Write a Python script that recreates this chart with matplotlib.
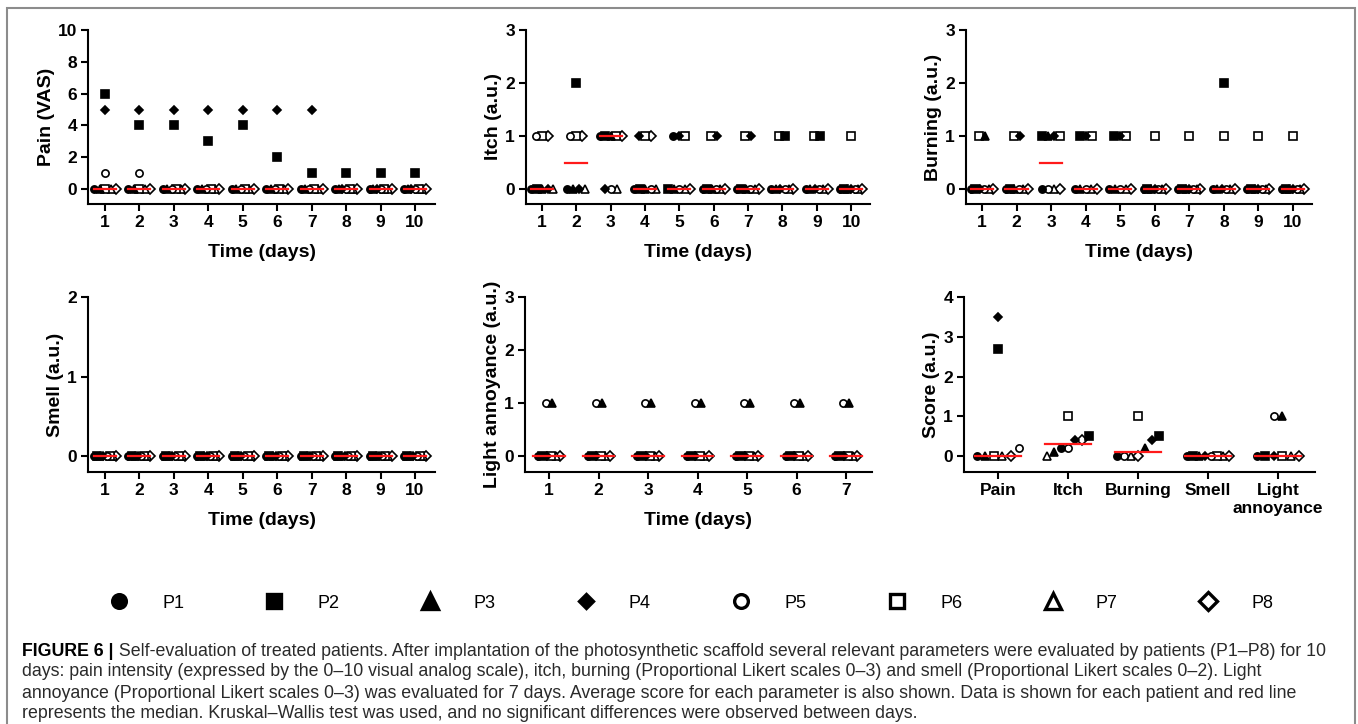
import numpy as np
import matplotlib.pyplot as plt
from matplotlib.lines import Line2D
from matplotlib.patches import Rectangle

plt.rcParams['font.family'] = ['Liberation Sans', 'DejaVu Sans']

W, H = 1358, 724

patients = ['P1', 'P2', 'P3', 'P4', 'P5', 'P6', 'P7', 'P8']
markers = ['o', 's', '^', 'D', 'o', 's', '^', 'D']
filled = [True, True, True, True, False, False, False, False]
msizes = [5.2, 5.2, 6, 3.8, 5.2, 5.4, 6, 4.6]

days10 = [1, 2, 3, 4, 5, 6, 7, 8, 9, 10]
days7 = [1, 2, 3, 4, 5, 6, 7]

# rows = patients P1..P8, columns = days
pain = [
    [0, 0, 0, 0, 0, 0, 0, 0, 0, 0],
    [6, 4, 4, 3, 4, 2, 1, 1, 1, 1],
    [0, 0, 0, 0, 0, 0, 0, 0, 0, 0],
    [5, 5, 5, 5, 5, 5, 5, 0, 0, 0],
    [1, 1, 0, 0, 0, 0, 0, 0, 0, 0],
    [0, 0, 0, 0, 0, 0, 0, 0, 0, 0],
    [0, 0, 0, 0, 0, 0, 0, 0, 0, 0],
    [0, 0, 0, 0, 0, 0, 0, 0, 0, 0],
]
itch = [
    [0, 0, 1, 0, 1, 0, 0, 0, 0, 0],
    [0, 2, 1, 0, 0, 0, 0, 1, 1, 0],
    [0, 0, 1, 0, 0, 0, 0, 0, 0, 0],
    [0, 0, 0, 1, 1, 1, 1, 0, 0, 0],
    [1, 1, 0, 0, 0, 0, 0, 0, 0, 0],
    [1, 1, 1, 1, 1, 1, 1, 1, 1, 1],
    [0, 0, 0, 0, 0, 0, 0, 0, 0, 0],
    [1, 1, 1, 1, 0, 0, 0, 0, 0, 0],
]
burning = [
    [0, 0, 0, 0, 0, 0, 0, 0, 0, 0],
    [0, 0, 1, 1, 1, 0, 0, 2, 0, 0],
    [1, 0, 1, 0, 0, 0, 0, 0, 0, 0],
    [0, 1, 1, 1, 1, 0, 0, 0, 0, 0],
    [0, 0, 0, 0, 0, 0, 0, 0, 0, 0],
    [1, 1, 1, 1, 1, 1, 1, 1, 1, 1],
    [0, 0, 0, 0, 0, 0, 0, 0, 0, 0],
    [0, 0, 0, 0, 0, 0, 0, 0, 0, 0],
]
smell = [[0] * 10 for p in patients]
light = [
    [0, 0, 0, 0, 0, 0, 0],
    [0, 0, 0, 0, 0, 0, 0],
    [1, 1, 1, 1, 1, 1, 1],
    [0, 0, 0, 0, 0, 0, 0],
    [1, 1, 1, 1, 1, 1, 1],
    [0, 0, 0, 0, 0, 0, 0],
    [0, 0, 0, 0, 0, 0, 0],
    [0, 0, 0, 0, 0, 0, 0],
]

# average score per parameter, rows = patients
score_cats = ['Pain', 'Itch', 'Burning', 'Smell', 'Light\nannoyance']
score = [
    [0, 0.2, 0, 0, 0],
    [2.7, 0.5, 0.5, 0, 0],
    [0, 0.1, 0.2, 0, 1],
    [3.5, 0.4, 0.4, 0, 0],
    [0.2, 0.2, 0, 0, 1],
    [0, 1, 1, 0, 0],
    [0, 0, 0, 0, 0],
    [0, 0.4, 0, 0, 0],
]


def px(x0, y0, x1, y1):
    # pixel box (left, top, right, bottom) -> figure fraction rect
    return [x0 / W, 1 - y1 / H, (x1 - x0) / W, (y1 - y0) / H]


def spread(ax, vals, dmax, wmax, thresh=10):
    # horizontal offsets (data units) so that points with close values fan out
    bb = ax.get_position()
    xl, yl = ax.get_xlim(), ax.get_ylim()
    upx = bb.width * W / (xl[1] - xl[0])
    upy = bb.height * H / (yl[1] - yl[0])
    order = sorted(range(len(vals)), key=lambda i: (vals[i], i))
    groups, cur = [], [order[0]]
    for i in order[1:]:
        if (vals[i] - vals[cur[-1]]) * upy < thresh:
            cur.append(i)
        else:
            groups.append(cur)
            cur = [i]
    groups.append(cur)
    off = [0.0] * len(vals)
    for g in groups:
        n = len(g)
        if n == 1:
            continue
        if n == 2:
            g = g[::-1]
        d = min(dmax, wmax / (n - 1))
        for k, i in enumerate(g):
            off[i] = (k - (n - 1) / 2) * d / upx
    return off


def style(ax, ylab, yticks, xticks, xticklabels, xlab):
    for s in ['top', 'right']:
        ax.spines[s].set_visible(False)
    for s in ['left', 'bottom']:
        ax.spines[s].set_linewidth(1.5)
    ax.tick_params(width=1.5, length=5, labelsize=12.5, pad=3)
    ax.set_yticks(yticks)
    ax.set_xticks(xticks)
    ax.set_xticklabels(xticklabels, fontweight='bold')
    for t in ax.get_yticklabels():
        t.set_fontweight('bold')
    ax.set_ylabel(ylab, fontsize=14, fontweight='bold', labelpad=2)
    if xlab:
        ax.set_xlabel(xlab, fontsize=14, fontweight='bold', labelpad=10)


def draw(ax, xs, data, dmax, wmax, half):
    data = np.array(data, dtype=float)
    for j, x in enumerate(xs):
        col = data[:, j]
        off = spread(ax, list(col), dmax, wmax)
        # open symbols first so the filled ones sit on top, like the original
        for i in reversed(range(len(patients))):
            ax.plot(x + off[i], col[i], linestyle='none', marker=markers[i],
                    ms=msizes[i], mfc='black' if filled[i] else 'white',
                    mec='black', mew=1.2, zorder=3, clip_on=False)
        med = np.median(col)
        ax.plot([x - half, x + half], [med, med], color='#ff1a1a', lw=1.6, zorder=4)


fig = plt.figure(figsize=(W / 100, H / 100), dpi=100)

panels = [
    (px(88, 30, 435, 204), (0.506, 10.58), (-0.94, 10), pain, days10, 'Pain (VAS)', [0, 2, 4, 6, 8, 10]),
    (px(526, 30, 870, 204), (0.534, 10.55), (-0.28, 3), itch, days10, 'Itch (a.u.)', [0, 1, 2, 3]),
    (px(966, 30, 1312, 204), (0.537, 10.55), (-0.28, 3), burning, days10, 'Burning (a.u.)', [0, 1, 2, 3]),
    (px(88, 297, 435, 472), (0.506, 10.58), (-0.2, 2), smell, days10, 'Smell (a.u.)', [0, 1, 2]),
    (px(525, 297, 872, 472), (0.515, 7.525), (-0.3, 3), light, days7, 'Light annoyance (a.u.)', [0, 1, 2, 3]),
]

for rect, xl, yl, data, days, ylab, yt in panels:
    ax = fig.add_axes(rect)
    ax.set_xlim(xl)
    ax.set_ylim(yl)
    draw(ax, days, data, 6, 22, 0.32)
    style(ax, ylab, yt, days, [str(d) for d in days], 'Time (days)')

ax = fig.add_axes(px(964, 297, 1315, 472))
ax.set_xlim(0.514, 5.53)
ax.set_ylim(-0.4, 4)
cats = list(range(1, len(score_cats) + 1))
draw(ax, cats, score, 8.5, 42, 0.33)
style(ax, 'Score (a.u.)', [0, 1, 2, 3, 4], cats, score_cats, None)

# legend row
handles = [Line2D([], [], linestyle='none', marker=markers[i], ms=msizes[i] * 1.9,
                  mfc='black' if filled[i] else 'white', mec='black', mew=2.4)
           for i in range(len(patients))]
fig.legend(handles, patients, ncol=8, loc='center', bbox_to_anchor=(687 / W, 1 - 603 / H),
           frameon=False, fontsize=13, handlelength=2, handletextpad=1.4,
           columnspacing=4.0, borderpad=0)

# caption
cap = fig.add_axes([0, 0, 1, 1])
cap.axis('off')
cap.set_xlim(0, W)
cap.set_ylim(H, 0)
lines = [
    'Self-evaluation of treated patients. After implantation of the photosynthetic scaffold several relevant parameters were evaluated by patients (P1\u2013P8) for 10',
    'days: pain intensity (expressed by the 0\u201310 visual analog scale), itch, burning (Proportional Likert scales 0\u20133) and smell (Proportional Likert scales 0\u20132). Light',
    'annoyance (Proportional Likert scales 0\u20133) was evaluated for 7 days. Average score for each parameter is also shown. Data is shown for each patient and red line',
    'represents the median. Kruskal\u2013Wallis test was used, and no significant differences were observed between days.',
]
ys = [651, 672, 693, 714]
t1 = cap.text(22, ys[0], 'FIGURE 6 |', fontsize=12.8, fontweight='bold', va='center')
cap.annotate(' ' + lines[0], xy=(1, 0.5), xycoords=t1, va='center', fontsize=12.8, color='#2a2a2a')
for y, s in zip(ys[1:], lines[1:]):
    cap.text(22, y, s, fontsize=12.8, va='center', color='#2a2a2a')

fig.patches.append(Rectangle((7 / W, -0.05), 1348 / W, 1 - 8 / H + 0.05, transform=fig.transFigure,
                             fill=False, edgecolor='#8c8c8c', lw=1.5))

fig.savefig('out.png', dpi=100)
